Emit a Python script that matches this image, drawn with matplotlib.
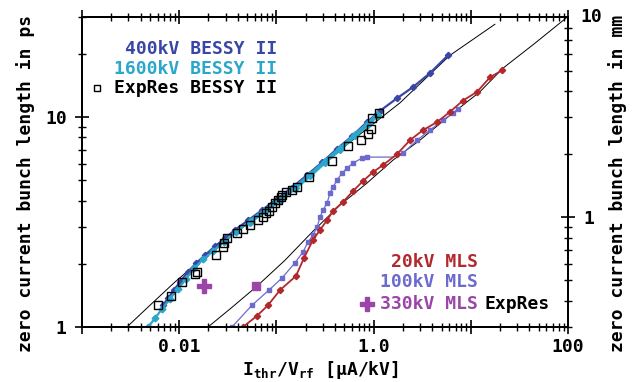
import matplotlib
matplotlib.use("Agg")
import matplotlib.pyplot as plt
from matplotlib.ticker import LogLocator, NullFormatter

# ---- values ----
# threshold current / rf voltage [uA/kV] and zero current bunch length [ps]

# 400 kV BESSY II (simulation)
bessy400_x = [0.00681, 0.00767, 0.00885, 0.0102, 0.0123, 0.0149, 0.0184, 0.0233,
              0.0296, 0.0375, 0.051, 0.0711, 0.101, 0.145, 0.207, 0.294, 0.42,
              0.60, 0.855, 1.16, 1.74, 2.54, 3.80, 5.82]
bessy400_y = [1.27, 1.37, 1.50, 1.64, 1.83, 2.01, 2.20, 2.42, 2.65, 2.90, 3.22,
              3.60, 4.08, 4.62, 5.30, 6.08, 7.06, 8.12, 9.47, 10.7, 12.3, 13.9,
              16.2, 19.7]

# 1600 kV BESSY II (simulation)
bessy1600_x = [0.00478, 0.00564, 0.00665, 0.00804, 0.00972, 0.0118, 0.0142,
               0.0176, 0.0223, 0.0289, 0.0384, 0.0535, 0.0763, 0.109, 0.155,
               0.222, 0.316, 0.451, 0.644, 0.875, 1.08]
bessy1600_y = [1.0, 1.10, 1.22, 1.36, 1.52, 1.70, 1.90, 2.10, 2.30, 2.55, 2.84,
               3.18, 3.58, 4.05, 4.60, 5.28, 6.13, 7.05, 8.21, 9.26, 10.2]

# ExpRes BESSY II (measurement)
bessy_exp_x = [0.00605, 0.00824, 0.0107, 0.0146, 0.0153, 0.0239, 0.0282, 0.0289,
               0.0310, 0.0393, 0.0453, 0.0535, 0.0647, 0.0728, 0.0782, 0.0839,
               0.0902, 0.0968, 0.104, 0.112, 0.114, 0.126, 0.145, 0.163, 0.216,
               0.373, 0.545, 0.741, 0.875, 0.94, 0.964, 1.14]
bessy_exp_y = [1.27, 1.41, 1.64, 1.79, 1.83, 2.20, 2.40, 2.51, 2.65, 2.80, 2.93,
               3.06, 3.23, 3.34, 3.49, 3.57, 3.73, 3.89, 4.02, 4.16, 4.25, 4.39,
               4.49, 4.64, 5.18, 6.17, 7.28, 7.77, 8.30, 8.77, 9.89, 10.45]

# theory lines (thin black)
theory_bessy_x = [0.0029, 0.00501, 0.00906, 0.0208, 0.0535, 0.175, 0.571, 1.87,
                  6.1, 17.7]
theory_bessy_y = [1.0, 1.27, 1.64, 2.28, 3.16, 4.80, 7.60, 11.7, 19.7, 27.7]
theory_mls_x = [0.0198, 0.0334, 0.0617, 0.1225, 0.238, 0.451, 0.855, 1.585, 3.0,
                6.11, 12.4, 21.4, 45.7, 97.7]
theory_mls_y = [1.0, 1.22, 1.55, 2.08, 2.86, 3.81, 4.85, 6.24, 7.77, 10.2, 13.2,
                17.1, 22.5, 29.9]

# 20 kV MLS (simulation)
mls20_x = [0.0453, 0.0631, 0.082, 0.109, 0.159, 0.192, 0.238, 0.281, 0.332,
           0.382, 0.484, 0.614, 0.778, 0.986, 1.25, 1.74, 2.37, 3.22, 4.49, 6.11,
           8.32, 11.6, 15.8, 20.9]
mls20_y = [1.0, 1.13, 1.27, 1.50, 1.75, 2.13, 2.60, 2.90, 3.23, 3.57, 3.94, 4.44,
           4.96, 5.47, 5.91, 6.66, 7.77, 8.67, 9.47, 10.6, 12.0, 13.2, 15.5, 16.7]

# 100 kV MLS (simulation), no points are shown on the plateau
mls100_x = [0.0349, 0.0561, 0.0839, 0.114, 0.155, 0.188, 0.2115, 0.238, 0.262,
            0.281, 0.3015, 0.332, 0.356, 0.382, 0.42, 0.473, 0.532, 0.614, 0.76,
            0.855, 1.585, 2.01, 2.80, 3.80, 5.17, 6.56, 7.38]
mls100_y = [1.0, 1.27, 1.50, 1.71, 2.02, 2.28, 2.54, 2.74, 2.99, 3.34, 3.61, 3.89,
            4.35, 4.64, 5.01, 5.41, 5.71, 6.04, 6.38, 6.45, 6.45, 6.74, 7.77, 8.67,
            9.68, 10.45, 10.9]
mls100_plateau = 1.585

# 330 kV MLS ExpRes
mls330_plus_x = [0.0180]
mls330_plus_y = [1.57]
mls330_sq_x = [0.0617]
mls330_sq_y = [1.57]

PS_PER_MM = 3.3356

C400 = '#3a46a6'
C1600 = '#2aa7c9'
CRED = '#b2282c'
C100 = '#6c6acd'
CPUR = '#9a45a7'

plt.rcParams['font.family'] = 'DejaVu Sans Mono'
plt.rcParams['font.weight'] = 'bold'
plt.rcParams['font.size'] = 13
plt.rcParams['mathtext.fontset'] = 'custom'
plt.rcParams['mathtext.rm'] = 'DejaVu Sans Mono:bold'
plt.rcParams['mathtext.default'] = 'rm'

W, H = 637, 382
fig = plt.figure(figsize=(W / 100, H / 100), dpi=100)
ax = fig.add_axes([82 / W, 1 - 327 / H, 486 / W, 310 / H])

ax.plot(theory_bessy_x, theory_bessy_y, color='black', lw=0.7)
ax.plot(theory_mls_x, theory_mls_y, color='black', lw=0.7)

ax.plot(bessy400_x, bessy400_y, color=C400, lw=1.6, marker='D', ms=3.2)
ax.plot(bessy1600_x, bessy1600_y, color=C1600, lw=1.6, marker='D', ms=3.4)
ax.plot(bessy1600_x[11:], bessy1600_y[11:], color=C1600, lw=3.0, marker='D', ms=3.8)

marked = [i for i, v in enumerate(mls100_x) if v != mls100_plateau]
ax.plot(mls100_x, mls100_y, color=C100, lw=0.9, marker='s', ms=3.0, markevery=marked)
ax.plot(mls20_x, mls20_y, color=CRED, lw=1.3, marker='D', ms=3.2)

ax.plot(bessy_exp_x, bessy_exp_y, ls='none', marker='s', ms=5.5, mfc='none',
        mec='black', mew=1.0)
ax.plot(mls330_plus_x, mls330_plus_y, ls='none', marker='P', ms=10, color=CPUR)
ax.plot(mls330_sq_x, mls330_sq_y, ls='none', marker='s', ms=6, color=CPUR)

ax.set_xscale('log')
ax.set_yscale('log')
ax.set_xlim(1e-3, 100)
ax.set_ylim(1, 30)

ax.set_xticks([1e-3, 1e-2, 1e-1, 1, 10, 100])
ax.set_xticklabels(['', '0.01', '', '1.0', '', '100'])
ax.xaxis.set_minor_locator(LogLocator(base=10, subs=range(2, 10), numticks=20))
ax.xaxis.set_minor_formatter(NullFormatter())
ax.set_yticks([1, 10])
ax.set_yticklabels(['1', '10'])
ax.yaxis.set_minor_locator(LogLocator(base=10, subs=range(2, 10), numticks=20))
ax.yaxis.set_minor_formatter(NullFormatter())

ax.tick_params(which='major', direction='inout', length=10, width=1.2,
               top=True, right=False, pad=6)
ax.tick_params(axis='x', which='major', pad=3)
ax.tick_params(which='minor', direction='inout', length=6, width=1.0,
               top=True, right=False)
for s in ax.spines.values():
    s.set_linewidth(1.4)

ax2 = ax.twinx()
ax2.set_yscale('log')
ax2.set_ylim(1 / PS_PER_MM, 30 / PS_PER_MM)
ax2.set_yticks([1])
ax2.set_yticklabels(['1'])
ax2.yaxis.set_minor_locator(LogLocator(base=10, subs=range(2, 10), numticks=20))
ax2.yaxis.set_minor_formatter(NullFormatter())
ax2.tick_params(which='major', direction='inout', length=10, width=1.2, pad=6)
ax2.tick_params(which='minor', direction='inout', length=6, width=1.0)
ax2.text(1.025, 1.0, '10', transform=ax2.transAxes, ha='left', va='center')
for s in ax2.spines.values():
    s.set_linewidth(1.4)

# legends written as text, like in the original
ax.text(0.401, 0.897, '400kV BESSY II', color=C400, transform=ax.transAxes,
        ha='right', va='center')
ax.text(0.401, 0.832, '1600kV BESSY II', color=C1600, transform=ax.transAxes,
        ha='right', va='center')
ax.text(0.401, 0.771, 'ExpRes BESSY II', color='black', transform=ax.transAxes,
        ha='right', va='center')
ax.plot([0.031], [0.771], transform=ax.transAxes, ls='none', marker='s', ms=5,
        mfc='none', mec='black', mew=1.0)
ax.text(0.815, 0.210, '20kV MLS', color=CRED, transform=ax.transAxes,
        ha='right', va='center')
ax.text(0.815, 0.145, '100kV MLS', color=C100, transform=ax.transAxes,
        ha='right', va='center')
ax.text(0.815, 0.074, '330kV MLS', color=CPUR, transform=ax.transAxes,
        ha='right', va='center')
ax.text(0.829, 0.074, 'ExpRes', color='black', transform=ax.transAxes,
        ha='left', va='center')
ax.plot([0.586], [0.074], transform=ax.transAxes, ls='none', marker='P', ms=10,
        color=CPUR)

fig.text(320 / W, 1 - 370 / H, 'I$_{thr}$/V$_{rf}$ [μA/kV]', ha='center', va='center')
fig.text(26 / W, 1 - 183 / H, 'zero current bunch length in ps', rotation=90,
         ha='center', va='center')
fig.text(618 / W, 1 - 183 / H, 'zero current bunch length in mm', rotation=90,
         ha='center', va='center')

fig.savefig('out.png', dpi=100)
